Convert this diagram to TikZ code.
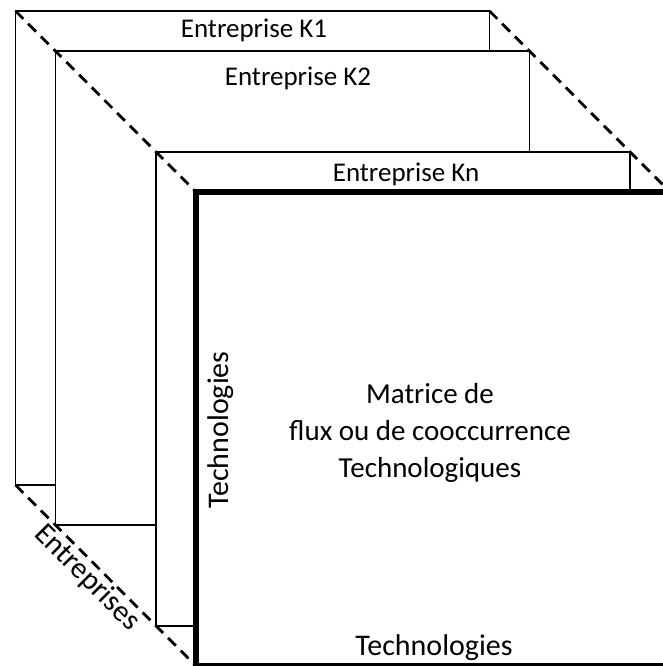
\documentclass[tikz,border=0pt]{standalone}
\usepackage{fontspec}
\setmainfont{Carlito}
\begin{document}
\begin{tikzpicture}[x=1pt,y=-1pt,
  framebox/.style={draw=black, fill=white, line width=1.6pt, inner sep=0pt, outer sep=0pt,
                   minimum width=474pt, minimum height=474pt},
  mainbox/.style={framebox, line width=6pt},
  guide/.style={draw=black, line width=2.8pt, dash pattern=on 11pt off 7pt},
  lbl/.style={font=\fontsize{27}{37}\selectfont, inner sep=0pt, text=black},
  biglbl/.style={font=\fontsize{30}{37}\selectfont, inner sep=0pt, text=black},
  midlbl/.style={font=\fontsize{29}{37}\selectfont, inner sep=0pt, text=black}]
\useasboundingbox (0,0) rectangle (662,666);
\fill[white] (0,0) rectangle (662,666);
% stacked frames
\node[framebox] (k1) at (252.5,248) {};
\node[framebox] (k2) at (292.5,288) {};
\node[framebox] (kn) at (393,389) {};
\node[mainbox] (m) at (433,429) {};
% dashed guides
\draw[guide] (k1.north west) -- (m.north west);
\draw[guide] (k1.north east) -- (m.north east);
\draw[guide] (k1.south west) -- (m.south west);
% labels
\node[lbl, anchor=base] (t1) at (254,38) {Entreprise K1};
\node[lbl, anchor=base] (t2) at (298,86) {Entreprise K2};
\node[lbl, anchor=base] (tn) at (406,181) {Entreprise Kn};
\node[midlbl, anchor=base, align=center] (mt) at (430,477) {Matrice de\\flux ou de cooccurrence\\Technologiques};
\node[biglbl, anchor=base] (tb) at (434,655) {Technologies};
\node[biglbl, anchor=base, rotate=90] (tv) at (228,430) {Technologies};
\node[biglbl, rotate=-45] (te) at (87,578) {Entreprises};
\end{tikzpicture}
\end{document}
